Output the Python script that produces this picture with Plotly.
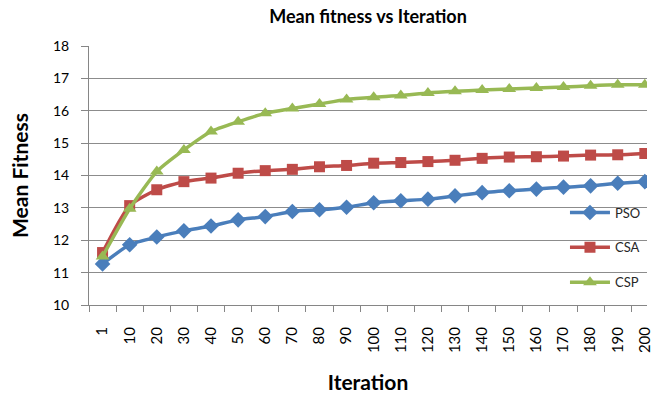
import plotly.graph_objects as go

iterations = ["1", "10", "20", "30", "40", "50", "60", "70", "80", "90", "100",
              "110", "120", "130", "140", "150", "160", "170", "180", "190", "200"]
pso = [11.27, 11.86, 12.10, 12.29, 12.44, 12.63, 12.73, 12.89, 12.94, 13.02, 13.16,
       13.22, 13.27, 13.37, 13.47, 13.53, 13.58, 13.64, 13.68, 13.76, 13.81]
csa = [11.62, 13.07, 13.56, 13.81, 13.92, 14.07, 14.15, 14.19, 14.27, 14.31, 14.38,
       14.40, 14.43, 14.47, 14.53, 14.57, 14.58, 14.60, 14.63, 14.64, 14.68]
csp = [11.50, 12.97, 14.12, 14.79, 15.36, 15.66, 15.92, 16.07, 16.21, 16.35, 16.42,
       16.47, 16.55, 16.60, 16.64, 16.67, 16.70, 16.73, 16.77, 16.80, 16.80]
y_ticks = [10, 11, 12, 13, 14, 15, 16, 17, 18]

series = [
    ("PSO", pso, "#4A7EBB", "diamond", 12),
    ("CSA", csa, "#BE4B48", "square", 11),
    ("CSP", csp, "#98B954", "triangle-up", 12),
]

FONT = "Lato, Open Sans, sans-serif"

fig = go.Figure()
for i, (name, vals, color, sym, size) in enumerate(series):
    fig.add_trace(go.Scatter(
        x=iterations, y=vals, name=name, mode="lines+markers",
        line=dict(color=color, width=3.5, shape="spline", smoothing=0.6),
        marker=dict(symbol=sym, size=size, color=color),
        legendgroup=f"g{i}",
    ))

fig.update_layout(
    width=653, height=394,
    margin=dict(l=89, r=0, t=46, b=89),
    paper_bgcolor="white", plot_bgcolor="white",
    title=dict(text="<b>Mean fitness vs Iteration</b>", x=0.5, xref="paper",
               y=0.958, yanchor="middle",
               font=dict(family=FONT, size=18, color="black")),
    showlegend=True,
    legend=dict(x=0.853, y=0.415, xanchor="left", yanchor="top",
                bgcolor="rgba(0,0,0,0)", tracegroupgap=15, itemwidth=40,
                font=dict(family=FONT, size=13, color="#262626")),
    font=dict(family=FONT),
)
fig.update_xaxes(
    type="category", range=[-0.5, 20.08], tickson="boundaries",
    ticks="outside", ticklen=6, tickcolor="#868686", tickangle=-90,
    showline=True, linecolor="#868686", linewidth=1, showgrid=False,
    tickfont=dict(size=15, color="black"), ticklabelstandoff=15,
    title=dict(text="<b>Iteration</b>", font=dict(size=21, color="black"), standoff=25),
)
fig.update_yaxes(
    range=[10, 18], tickvals=y_ticks, ticks="outside", ticklen=7, tickcolor="#868686",
    showline=True, linecolor="#868686", linewidth=1,
    showgrid=True, gridcolor="#8C8C8C", gridwidth=1, zeroline=False,
    tickfont=dict(size=14, color="black"), ticklabelstandoff=9,
    title=dict(text="<b>Mean Fitness</b>", font=dict(size=21, color="black"), standoff=18),
)

fig.write_html("out.html", config={"displayModeBar": False},
               post_script="document.body.style.margin='0';document.body.style.overflow='hidden';")
